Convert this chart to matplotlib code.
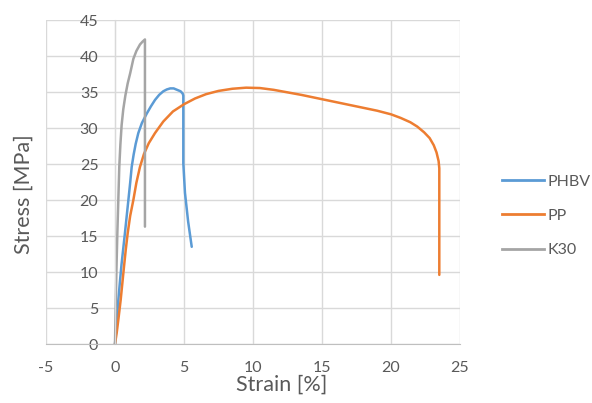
import matplotlib.pyplot as plt
from matplotlib.lines import Line2D

plt.rcParams['font.family'] = ['Lato', 'DejaVu Sans']
plt.rcParams['axes.unicode_minus'] = False

# stress-strain curves
phbv_strain = [0, 0.08, 0.16, 0.24, 0.35, 0.47, 0.6, 0.72, 0.85, 0.97, 1.1, 1.21, 1.35, 1.5, 1.69, 1.95, 2.3, 2.6,
               2.9, 3.2, 3.5, 3.75, 4.0, 4.25, 4.5, 4.75, 4.9, 4.95, 4.95, 5.07, 5.3, 5.56]
phbv_stress = [0, 2.0, 4.0, 6.1, 8.5, 11.0, 13.3, 15.4, 17.8, 20.0, 22.4, 24.6, 26.3, 27.8, 29.3, 30.7, 32.0, 33.0,
               33.9, 34.6, 35.1, 35.35, 35.5, 35.5, 35.3, 35.1, 34.8, 34.5, 25.1, 21.0, 17.0, 13.5]

pp_strain = [0, 0.12, 0.25, 0.41, 0.53, 0.65, 0.78, 0.92, 1.1, 1.33, 1.55, 1.81, 2.1, 2.45, 2.9, 3.5, 4.2, 5.0,
             5.8, 6.6, 7.5, 8.5, 9.5, 10.5, 11.5, 12.5, 13.5, 15.0, 16.0, 17.0, 18.0, 19.0, 20.0, 20.7, 21.4,
             21.9, 22.4, 22.8, 23.1, 23.3, 23.45, 23.5, 23.5]
pp_stress = [0, 1.5, 3.5, 6.1, 8.4, 10.7, 13.1, 15.4, 17.8, 20.0, 22.4, 24.6, 26.4, 27.9, 29.3, 30.9, 32.3, 33.3,
             34.1, 34.7, 35.15, 35.45, 35.6, 35.55, 35.3, 34.95, 34.6, 34.0, 33.6, 33.2, 32.8, 32.4, 31.9, 31.4, 30.8,
             30.2, 29.4, 28.6, 27.6, 26.6, 25.4, 24.4, 9.6]

k30_strain = [0, 0.05, 0.1, 0.17, 0.24, 0.31, 0.39, 0.48, 0.6, 0.75, 0.92, 1.1, 1.33, 1.55, 1.81, 2.0, 2.17, 2.17]
k30_stress = [0, 5.0, 10.0, 15.4, 20.0, 24.6, 27.7, 30.4, 32.6, 34.5, 36.2, 37.6, 39.6, 40.7, 41.6, 42.0, 42.3, 16.3]

series = ['PHBV', 'PP', 'K30']
colors = ['#5B9BD5', '#ED7D31', '#A5A5A5']
x_ticks = [-5, 0, 5, 10, 15, 20, 25]
y_ticks = [0, 5, 10, 15, 20, 25, 30, 35, 40, 45]

fig = plt.figure(figsize=(5.92, 4.03), dpi=100)
ax = fig.add_axes([46 / 592, 59 / 403, 414 / 592, 324 / 403])

ax.plot(phbv_strain, phbv_stress, color=colors[0], lw=1.8, label=series[0], solid_capstyle='round', solid_joinstyle='round')
ax.plot(pp_strain, pp_stress, color=colors[1], lw=1.8, label=series[1], solid_capstyle='round', solid_joinstyle='round')
ax.plot(k30_strain, k30_stress, color=colors[2], lw=1.8, label=series[2], solid_capstyle='round', solid_joinstyle='round')

ax.set_xlim(-5, 25)
ax.set_ylim(0, 45)
ax.set_xticks(x_ticks)
ax.set_yticks(y_ticks)
ax.grid(True, color='#D9D9D9', lw=1)
ax.set_axisbelow(True)

for s in ['top', 'right']:
    ax.spines[s].set_visible(False)
ax.spines['left'].set_position(('data', 0))
ax.spines['left'].set_color('#D9D9D9')
ax.spines['bottom'].set_color('#BFBFBF')
ax.tick_params(axis='both', length=0, labelsize=11.5, labelcolor='#595959')
ax.tick_params(axis='x', pad=12)
ax.tick_params(axis='y', pad=12)

# axis titles sit where Excel put them, not centred on the plot area
fig.text(282 / 592, 1 - 385 / 403, 'Strain [%]', fontsize=15.5, color='#595959', ha='center', va='center')
fig.text(24 / 592, 1 - 194 / 403, 'Stress [MPa]', rotation=90, fontsize=15.5,
         color='#595959', ha='center', va='center')

handles = [Line2D([0], [0], color=c, lw=2) for c in colors]
leg = fig.legend(handles, series, loc='center left', bbox_to_anchor=(488 / 592, 1 - 216 / 403),
                 frameon=False, fontsize=11.5, handlelength=2.6, handletextpad=0.2, labelspacing=1.25)
for t in leg.get_texts():
    t.set_color('#595959')

fig.savefig('out.png', dpi=100)
